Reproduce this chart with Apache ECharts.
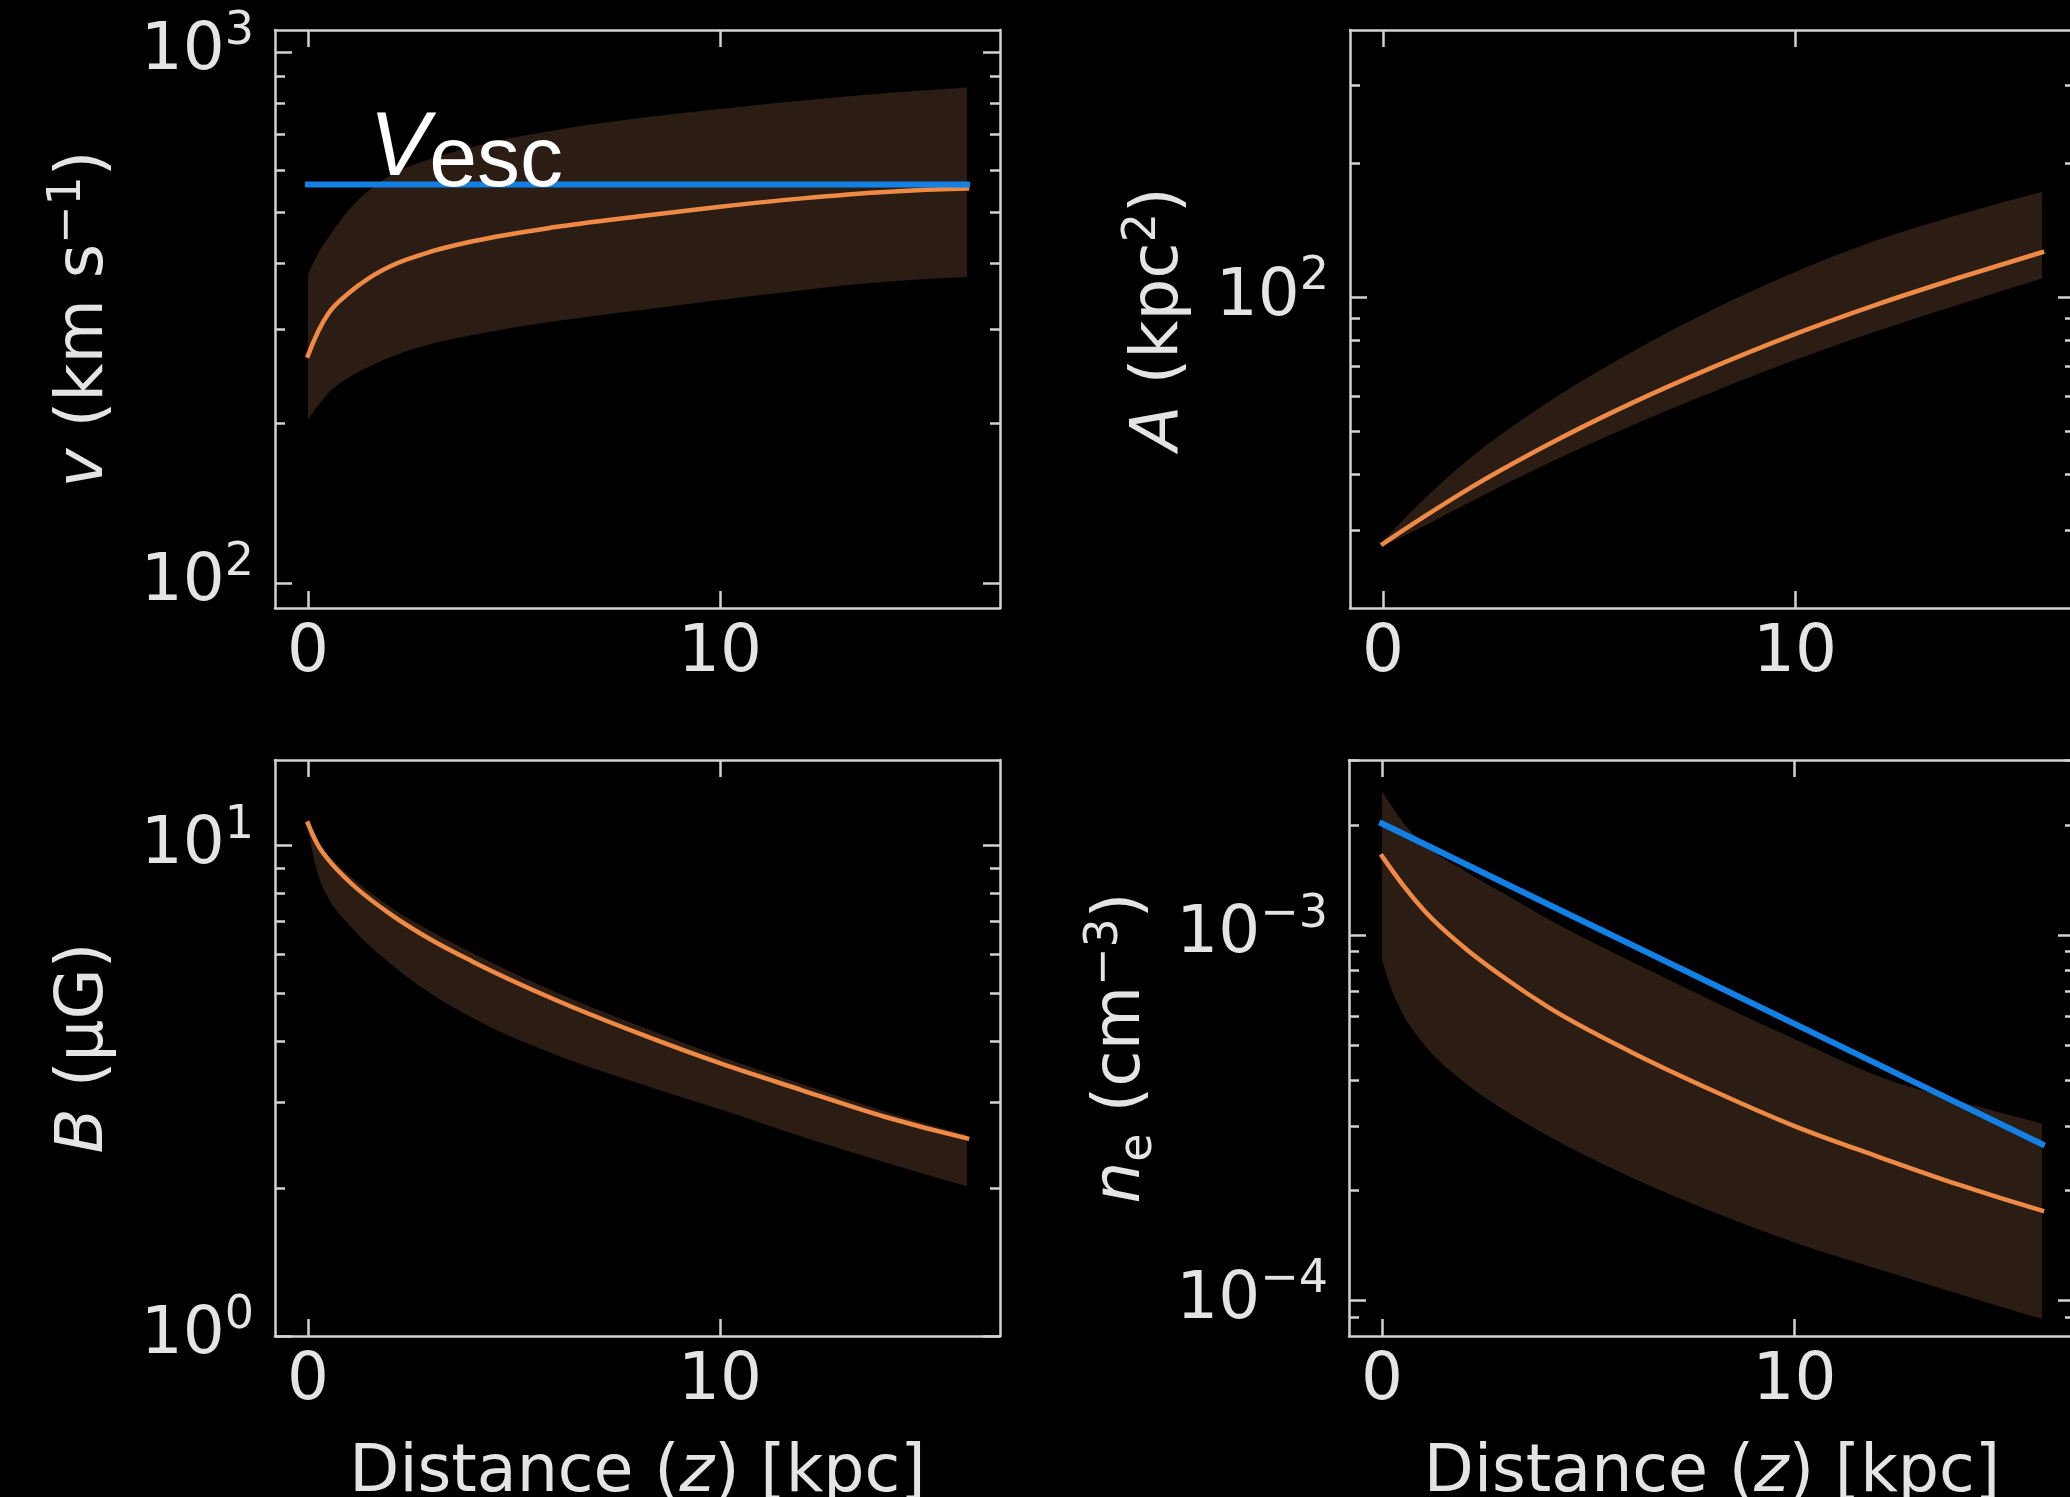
<!DOCTYPE html>
<html>
<head>
<meta charset="utf-8">
<script src="https://cdn.jsdelivr.net/npm/echarts@6/dist/echarts.min.js"></script>
<style>
html,body{margin:0;padding:0;background:#000;}
#chart{width:2070px;height:1497px;}
</style>
</head>
<body>
<div id="chart"></div>
<script>
// ---------------- DATA ----------------
// x tick values (kpc)
const xTickValues = [0, 10];

// Panel 1: velocity v (km/s)
const xV     = [0, 0.25, 0.5, 1, 1.5, 2, 3, 4, 6, 8, 10, 12, 14, 16];
const vMid   = [268, 298, 322, 352, 376, 395, 421, 440, 468, 490, 511, 530, 545, 553];
const vLow   = [203, 216, 228, 244, 256, 266, 282, 293, 311, 326, 341, 356, 369, 377];
const vHigh  = [380, 418, 448, 505, 550, 585, 630, 663, 712, 750, 781, 810, 836, 857];
const xVesc  = [0, 16];
const vEsc   = [563, 563];
const vMajorTicks = [100, 1000];
const vMinorTicks = [200, 300, 400, 500, 600, 700, 800, 900];

// Panel 2: area A (kpc^2)
const xA     = [0, 1, 2, 4, 6, 8, 10, 12, 14, 16];
const aMid   = [27.9, 32.1, 36.7, 46.6, 57.6, 69.6, 82.7, 96.5, 110.9, 126.4];
const aLow   = [27.6, 30.6, 34.2, 42.3, 51.3, 61.3, 72.3, 84.0, 96.6, 110.4];
const aHigh  = [28.3, 35.2, 42.6, 58.0, 75.0, 93.8, 114.1, 134.7, 153.8, 172.9];
const aMajorTicks = [100];
const aMinorTicks = [30, 40, 50, 60, 70, 80, 90, 200, 300];

// Panel 3: magnetic field B (muG)
const xB     = [0, 0.25, 0.5, 1, 2, 3, 4, 6, 8, 10, 12, 14, 16];
const bMid   = [11.1, 10.0, 9.35, 8.45, 7.25, 6.42, 5.8, 4.85, 4.15, 3.6, 3.17, 2.8, 2.53];
const bLow   = [10.8, 8.7, 7.8, 6.9, 5.75, 4.98, 4.45, 3.75, 3.28, 2.9, 2.55, 2.26, 2.02];
const bHigh  = [11.1, 10.15, 9.55, 8.7, 7.5, 6.68, 6.03, 5.03, 4.3, 3.72, 3.26, 2.87, 2.57];
const bMajorTicks = [1, 10];
const bMinorTicks = [2, 3, 4, 5, 6, 7, 8, 9];

// Panel 4: electron density n_e (cm^-3)
const xN     = [0, 0.25, 0.5, 1, 2, 3, 4, 6, 8, 10, 12, 14, 16];
const nMid   = [1.644e-3, 1.50e-3, 1.374e-3, 1.175e-3, 9.23e-4, 7.59e-4, 6.38e-4, 4.81e-4, 3.76e-4, 3.00e-4, 2.48e-4, 2.07e-4, 1.76e-4];
const nLow   = [8.58e-4, 7.0e-4, 6.1e-4, 5.05e-4, 3.95e-4, 3.3e-4, 2.83e-4, 2.18e-4, 1.75e-4, 1.44e-4, 1.22e-4, 1.04e-4, 8.9e-5];
const nHigh  = [2.47e-3, 2.24e-3, 2.04e-3, 1.78e-3, 1.50e-3, 1.29e-3, 1.11e-3, 8.51e-4, 6.61e-4, 5.19e-4, 4.12e-4, 3.51e-4, 3.05e-4];
const xNRef  = [0, 4, 8, 12, 16];
const nRef   = [2.019e-3, 1.218e-3, 7.354e-4, 4.438e-4, 2.677e-4];
const nMajorTicks = [1e-4, 1e-3];
const nMinorTicks = [9e-5, 2e-4, 3e-4, 4e-4, 5e-4, 6e-4, 7e-4, 8e-4, 9e-4, 2e-3, 3e-3];

// ---------------- STYLE / LAYOUT ----------------
const LINE = '#d2d2d2';
const TXT = '#e4e4e4';
const ORANGE = '#ee8a45';
const BLUE = '#1280e4';
const BAND = '#2b1d14';
const FONT = 'DejaVu Sans';
const FS = 66, FS_SUP = 46;
const XMIN = -0.8, XMAX = 16.8;
const VESC_LABEL_X = 1.5;

const grids = [
  {left: 275,  top: 30,  width: 725, height: 578, ymin: 89.7, ymax: 1100, major: vMajorTicks, minor: vMinorTicks,
   yname: '{i|v} (km s{s|\u22121})', ynameGap: 150, xname: ''},
  {left: 1350, top: 30,  width: 725, height: 578, ymin: 20, ymax: 400, major: aMajorTicks, minor: aMinorTicks,
   yname: '{i|A} (kpc{s|2})', ynameGap: 150, xname: ''},
  {left: 275,  top: 760, width: 725, height: 576, ymin: 1, ymax: 14.95, major: bMajorTicks, minor: bMinorTicks,
   yname: '{i|B} (\u03bcG)', ynameGap: 150, xname: 'Distance ({i|z}) [kpc]'},
  {left: 1349, top: 760, width: 726, height: 576, ymin: 7.99e-5, ymax: 3.013e-3, major: nMajorTicks, minor: nMinorTicks,
   yname: '{i|n}{b|e} (cm{s|\u22123})', ynameGap: 187, xname: 'Distance ({i|z}) [kpc]'}
];

const nameRich = {
  i: {fontStyle: 'italic', fontFamily: FONT, fontSize: FS, lineHeight: 80, color: TXT},
  s: {fontFamily: FONT, fontSize: FS_SUP, lineHeight: FS_SUP, verticalAlign: 'top', color: TXT},
  b: {fontFamily: FONT, fontSize: FS_SUP, lineHeight: FS_SUP, verticalAlign: 'bottom', color: TXT}
};

function sciLabel(v) {
  const e = Math.round(Math.log10(v));
  const s = e < 0 ? '\u2212' + (-e) : String(e);
  return '{m|10}{s|' + s + '}';
}

const option = {
  backgroundColor: '#000',
  animation: false,
  grid: grids.map(g => ({left: g.left, top: g.top, width: g.width, height: g.height,
                         containLabel: false, outerBoundsMode: 'none', show: false})),
  xAxis: [],
  yAxis: [],
  series: []
};

grids.forEach((g, gi) => {
  const tickStyle = {color: LINE, width: 2.5};
  option.xAxis.push({
    type: 'value', gridIndex: gi, position: 'bottom', min: XMIN, max: XMAX,
    axisLine: {show: true, onZero: false, lineStyle: {color: LINE, width: 2.5}},
    axisTick: {show: true, inside: true, length: 17, lineStyle: tickStyle, customValues: xTickValues},
    axisLabel: {show: true, customValues: xTickValues, margin: 13, color: TXT, fontFamily: FONT, fontSize: FS, lineHeight: FS},
    splitLine: {show: false},
    name: g.xname, nameLocation: 'middle', nameGap: 98,
    nameTextStyle: {color: TXT, fontFamily: FONT, fontSize: 65, lineHeight: 65, rich: nameRich}
  });
  option.xAxis.push({
    type: 'value', gridIndex: gi, position: 'top', min: XMIN, max: XMAX,
    axisLine: {show: true, onZero: false, lineStyle: {color: LINE, width: 2.5}},
    axisTick: {show: true, inside: true, length: 17, lineStyle: tickStyle, customValues: xTickValues},
    axisLabel: {show: false},
    splitLine: {show: false}
  });
  const labelStyle = {
    show: true, customValues: g.major, margin: 21, formatter: sciLabel,
    color: TXT, fontFamily: FONT, fontSize: FS,
    rich: {
      m: {fontFamily: FONT, fontSize: FS, lineHeight: 86, color: TXT},
      s: {fontFamily: FONT, fontSize: FS_SUP, lineHeight: FS_SUP, verticalAlign: 'top', color: TXT}
    }
  };
  ['left', 'right'].forEach(pos => {
    option.yAxis.push({
      type: 'log', logBase: 10, gridIndex: gi, position: pos, min: g.ymin, max: g.ymax,
      axisLine: {show: true, onZero: false, lineStyle: {color: LINE, width: 2.5}},
      axisTick: {show: true, inside: true, length: 17, lineStyle: tickStyle, customValues: g.major},
      axisLabel: pos === 'left' ? labelStyle : {show: false},
      splitLine: {show: false}, minorTick: {show: false}, minorSplitLine: {show: false},
      name: pos === 'left' ? g.yname : '', nameLocation: 'middle', nameGap: g.ynameGap, nameRotate: 90,
      nameTextStyle: {color: TXT, fontFamily: FONT, fontSize: FS, lineHeight: 80, rich: nameRich}
    });
    option.yAxis.push({
      type: 'log', logBase: 10, gridIndex: gi, position: pos, min: g.ymin, max: g.ymax,
      axisLine: {show: false, onZero: false},
      axisTick: {show: true, inside: true, length: 10, lineStyle: tickStyle, customValues: g.minor},
      axisLabel: {show: false},
      splitLine: {show: false}, minorTick: {show: false}
    });
  });
});

// smooth cubic bezier segments through screen points (x increasing),
// parabolic (3-point) tangents, clamped to stay monotone
function smoothSegments(p) {
  const n = p.length, h = [], d = [], m = [];
  for (let i = 0; i < n - 1; i++) { h[i] = p[i + 1][0] - p[i][0]; d[i] = (p[i + 1][1] - p[i][1]) / h[i]; }
  for (let i = 1; i < n - 1; i++) {
    if (d[i - 1] * d[i] <= 0) { m[i] = 0; continue; }
    let s = (h[i] * d[i - 1] + h[i - 1] * d[i]) / (h[i - 1] + h[i]);
    const lim = 3 * Math.min(Math.abs(d[i - 1]), Math.abs(d[i]));
    if (Math.abs(s) > lim) s = Math.sign(s) * lim;
    m[i] = s;
  }
  function endSlope(h0, h1, d0, d1) {
    let s = ((2 * h0 + h1) * d0 - h0 * d1) / (h0 + h1);
    if (s * d0 <= 0) s = 0;
    else if (d0 * d1 <= 0 && Math.abs(s) > Math.abs(3 * d0)) s = 3 * d0;
    return s;
  }
  if (n > 2) {
    m[0] = endSlope(h[0], h[1], d[0], d[1]);
    m[n - 1] = endSlope(h[n - 2], h[n - 3], d[n - 2], d[n - 3]);
  } else { m[0] = d[0]; m[1] = d[0]; }
  const segs = [];
  for (let i = 0; i < n - 1; i++) {
    const t = h[i] / 3;
    segs.push([p[i], [p[i][0] + t, p[i][1] + m[i] * t], [p[i + 1][0] - t, p[i + 1][1] - m[i + 1] * t], p[i + 1]]);
  }
  return segs;
}

function f(v) { return v.toFixed(2); }
function segPath(segs, reverse) {
  let s = '';
  if (!reverse) {
    segs.forEach(g => { s += ' C' + f(g[1][0]) + ' ' + f(g[1][1]) + ' ' + f(g[2][0]) + ' ' + f(g[2][1]) + ' ' + f(g[3][0]) + ' ' + f(g[3][1]); });
  } else {
    for (let k = segs.length - 1; k >= 0; k--) {
      const g = segs[k];
      s += ' C' + f(g[2][0]) + ' ' + f(g[2][1]) + ' ' + f(g[1][0]) + ' ' + f(g[1][1]) + ' ' + f(g[0][0]) + ' ' + f(g[0][1]);
    }
  }
  return s;
}

// shaded uncertainty band between lo and hi, drawn through the axes' scales
function addBand(gi, xs, lo, hi) {
  option.series.push({
    type: 'custom', name: 'band' + gi, coordinateSystem: 'cartesian2d', xAxisIndex: gi * 2, yAxisIndex: gi * 4,
    data: xs.map((x, i) => [x, lo[i], hi[i]]), silent: true, z: 1, clip: true,
    renderItem: function (params, api) {
      if (params.dataIndex !== 0) return null;
      const up = xs.map((x, i) => api.coord([x, hi[i]]));
      const dn = xs.map((x, i) => api.coord([x, lo[i]]));
      const last = dn[dn.length - 1];
      const path = 'M' + f(up[0][0]) + ' ' + f(up[0][1]) + segPath(smoothSegments(up), false) +
        ' L' + f(last[0]) + ' ' + f(last[1]) + segPath(smoothSegments(dn), true) + ' Z';
      return {type: 'path', shape: {pathData: path}, style: {fill: BAND, stroke: null}};
    }
  });
}

// smooth curve through the data points
function addCurve(gi, xs, ys, color, width) {
  option.series.push({
    type: 'custom', name: 'curve' + gi, coordinateSystem: 'cartesian2d', xAxisIndex: gi * 2, yAxisIndex: gi * 4,
    data: xs.map((x, i) => [x, ys[i]]), silent: true, z: 3, clip: true,
    renderItem: function (params, api) {
      if (params.dataIndex !== 0) return null;
      const pts = xs.map((x, i) => api.coord([x, ys[i]]));
      const path = 'M' + f(pts[0][0]) + ' ' + f(pts[0][1]) + segPath(smoothSegments(pts), false);
      return {type: 'path', shape: {pathData: path},
              style: {fill: null, stroke: color, lineWidth: width, lineCap: 'square', lineJoin: 'round'}};
    }
  });
}

function addLine(gi, xs, ys, color, width, extra) {
  option.series.push(Object.assign({
    type: 'line', xAxisIndex: gi * 2, yAxisIndex: gi * 4, data: xs.map((x, i) => [x, ys[i]]),
    symbol: 'none', smooth: false,
    lineStyle: {color: color, width: width, cap: 'square'}, silent: true, z: 4
  }, extra || {}));
}

// Panel 1
addBand(0, xV, vLow, vHigh);
addCurve(0, xV, vMid, ORANGE, 4.5);
addLine(0, xVesc, vEsc, BLUE, 6, {
  markPoint: {
    symbol: 'circle', symbolSize: 1, itemStyle: {color: 'rgba(0,0,0,0)'}, silent: true,
    data: [{
      coord: [VESC_LABEL_X, vEsc[0]],
      label: {
        show: true, position: [0, 0], align: 'left', verticalAlign: 'bottom', offset: [0, 21],
        formatter: '{v|V}{e|esc}',
        rich: {
          v: {fontFamily: 'Liberation Sans', fontStyle: 'italic', fontSize: 90, lineHeight: 90, verticalAlign: 'bottom', padding: [0, 0, 10, 0], color: '#ffffff'},
          e: {fontFamily: 'Liberation Sans', fontSize: 86, lineHeight: 86, verticalAlign: 'bottom', color: '#ffffff'}
        }
      }
    }]
  }
});

// Panel 2
addBand(1, xA, aLow, aHigh);
addCurve(1, xA, aMid, ORANGE, 4.5);

// Panel 3
addBand(2, xB, bLow, bHigh);
addCurve(2, xB, bMid, ORANGE, 4.5);

// Panel 4
addBand(3, xN, nLow, nHigh);
addCurve(3, xN, nMid, ORANGE, 4.5);
addLine(3, xNRef, nRef, BLUE, 6);

const chart = echarts.init(document.getElementById('chart'), null, {renderer: 'canvas'});
chart.setOption(option);
</script>
</body>
</html>
